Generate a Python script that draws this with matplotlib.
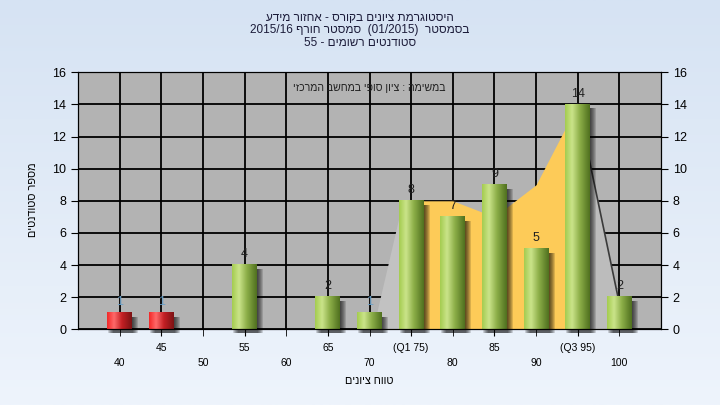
#!/usr/bin/env python3
"""
Grade histogram for a course (Hebrew labels), drawn with matplotlib
"""

import re
import numpy as np
import matplotlib
matplotlib.use('Agg')
import matplotlib.pyplot as plt
from matplotlib import transforms
from matplotlib.colors import LinearSegmentedColormap

# data
grades = [40, 45, 50, 55, 60, 65, 70, 75, 80, 85, 90, 95, 100]
counts = [1, 1, 0, 4, 0, 2, 1, 8, 7, 9, 5, 14, 2]
tick_labels = ['40', '45', '50', '55', '60', '65', '70', '(Q1 75)',
               '80', '85', '90', '(Q3 95)', '100']
failing = [40, 45]

# shaded background areas (grade, height)
low_grades = [70.4, 74, 75]
low_vals = [0, 8, 8]
mid_grades = [75, 80, 85, 90, 95]
mid_vals = [8, 8, 7, 9, 14]
high_grades = [95, 100]
high_vals = [14, 1.6]

title_lines = ['היסטוגרמת ציונים בקורס - אחזור מידע',
               'בסמסטר  (01/2015)  סמסטר חורף 2015/16',
               'סטודנטים רשומים - 55']
note_text = 'במשימה : ציון סופי במחשב המרכזי'
xlabel_text = 'טווח ציונים'
ylabel_text = 'מספר סטודנטים'

FONT = ['Liberation Sans', 'DejaVu Sans']
plt.rcParams['font.family'] = FONT

MIRROR = {'(': ')', ')': '('}


def visual(s):
    """Put a right-to-left string into visual (left-to-right) order"""
    parts = re.findall(r'[0-9A-Za-z/.]+|[^0-9A-Za-z/.]+', s)
    out = []
    for p in reversed(parts):
        if re.match(r'[0-9A-Za-z/.]', p):
            out.append(p)
        else:
            out.append(''.join(MIRROR.get(c, c) for c in reversed(p)))
    return ''.join(out)


def to_idx(g):
    return (np.asarray(g, dtype=float) - grades[0]) / 5.0


fig = plt.figure(figsize=(7.2, 4.05), dpi=100)

# figure background gradient
bg_cmap = LinearSegmentedColormap.from_list('bg', ['#d6e3f3', '#eef4fc'])
bg = fig.add_axes([0, 0, 1, 1], zorder=-10)
bg.imshow(np.linspace(0, 1, 256).reshape(-1, 1), cmap=bg_cmap,
          aspect='auto', extent=(0, 1, 0, 1))
bg.axis('off')

ax = fig.add_axes([78 / 720, 1 - 329.3 / 405, 583 / 720, 257 / 405])
ax.set_facecolor('#b3b3b3')
ax.set_axisbelow(True)

# background areas
ax.fill_between(to_idx(low_grades), low_vals, color='#c2c2c2', lw=0, zorder=1)
ax.fill_between(to_idx(mid_grades), mid_vals, color='#fdcb58', lw=0, zorder=1)
ax.fill_between(to_idx(high_grades), high_vals, color='#bcbcbc', lw=0, zorder=1)
ax.plot(to_idx(high_grades), high_vals, color='#3a3a3a', lw=1.2, zorder=1.5)

green = LinearSegmentedColormap.from_list(
    'g', [(0, '#a4cc50'), (0.28, '#cbe48a'), (0.6, '#8cae48'), (1, '#50701f')])
red = LinearSegmentedColormap.from_list(
    'r', [(0, '#f22828'), (0.28, '#ff6a6a'), (0.6, '#c42024'), (1, '#7c1214')])
grad = np.linspace(0, 1, 64).reshape(1, -1)

w = 0.6
px = 1 / 100.0
for i, (g, c) in enumerate(zip(grades, counts)):
    if c == 0:
        continue
    # soft drop shadow, offset right and down
    for k in range(1, 7):
        off = transforms.ScaledTranslation(k * px, -4 * px, fig.dpi_scale_trans)
        ax.bar(i, c, w, color='black', alpha=0.14, lw=0, clip_on=False,
               transform=ax.transData + off, zorder=2)
    ax.imshow(grad, cmap=red if g in failing else green,
              extent=(i - w / 2, i + w / 2, 0, c), aspect='auto',
              interpolation='bicubic', zorder=3)
    ax.text(i, c + 0.3, str(c), ha='center', va='bottom', fontsize=9,
            color='#6aa0c8' if c == 1 else '#202020', zorder=4)

ax.set_xlim(-1, 13)
ax.set_ylim(0, 16)
ax.set_yticks(np.arange(0, 17, 2))

idx = np.arange(len(grades))
ax.set_xticks(idx[1::2])
ax.set_xticklabels(tick_labels[1::2])
ax.set_xticks(idx[0::2], minor=True)
ax.set_xticklabels(tick_labels[0::2], minor=True)
ax.tick_params(axis='x', which='major', length=5, pad=5, labelsize=7.5)
ax.tick_params(axis='x', which='minor', length=5, pad=16, labelsize=7.5)
ax.tick_params(axis='y', length=5, labelsize=9, colors='black')

ax.grid(True, which='both', axis='x', color='black', lw=1.3)
ax.grid(True, which='major', axis='y', color='black', lw=1.3)
for s in ax.spines.values():
    s.set_color('black')
    s.set_zorder(5)

ax2 = ax.twinx()
ax2.set_ylim(0, 16)
ax2.set_yticks(np.arange(0, 17, 2))
ax2.tick_params(axis='y', length=5, labelsize=9)

ax.text(0.5, 0.94, visual(note_text), transform=ax.transAxes, ha='center',
        va='center', fontsize=7.6, color='#202020', zorder=5)

ys = [18, 30.5, 43]
for line, y in zip(title_lines, ys):
    fig.text(0.5, 1 - y / 405, visual(line), ha='center', va='center',
             fontsize=8.5, color='#1c1c3a')

fig.text(369 / 720, 1 - 381 / 405, visual(xlabel_text), ha='center',
         va='center', fontsize=7.8)
fig.text(33 / 720, 1 - 200 / 405, visual(ylabel_text), ha='center',
         va='center', rotation=90, fontsize=7.8)

fig.savefig('out.png', dpi=100)
